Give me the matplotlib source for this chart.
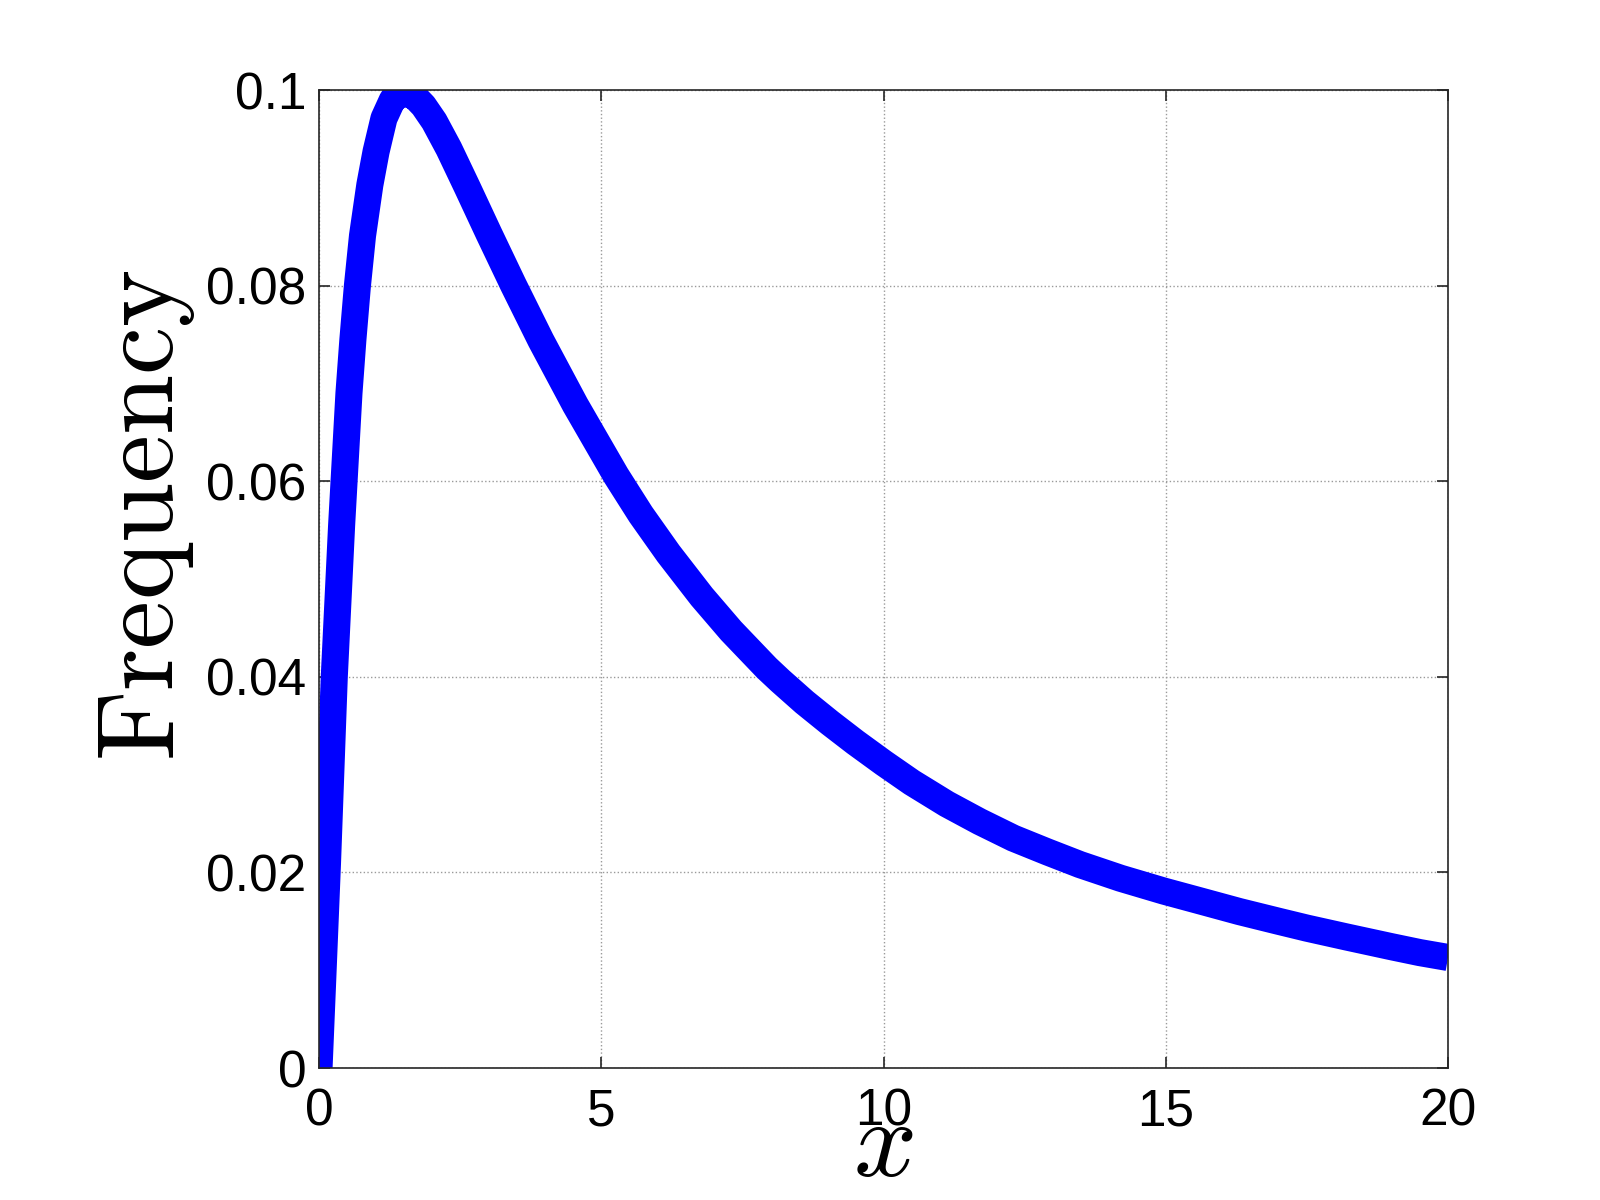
import matplotlib
matplotlib.use("Agg")
import matplotlib.pyplot as plt

# values
x_vals = [0, 0.065, 0.15, 0.27, 0.40, 0.53, 0.60, 0.68, 0.77, 0.90, 1.01,
          1.15, 1.30, 1.50, 1.70, 1.85, 2.04, 2.30, 2.63, 3.01, 3.44, 3.93,
          4.54, 5.00, 5.26, 5.70, 6.19, 6.78, 7.30, 7.93, 8.17, 8.60, 9.05,
          9.50, 10.0, 10.5, 11.12, 11.7, 12.3, 12.9, 13.48, 14.2, 14.96,
          15.6, 16.3, 17.0, 17.5, 18.2, 19.0, 19.5, 20.0]
y_vals = [0, 0.009, 0.021, 0.040, 0.0555, 0.0690, 0.0745, 0.0800, 0.0851,
          0.0903, 0.0937, 0.0971, 0.0990, 0.0998, 0.0993, 0.0984, 0.0968,
          0.0940, 0.0900, 0.0853, 0.0801, 0.0744, 0.0678, 0.0632, 0.0606,
          0.0566, 0.0526, 0.0482, 0.0447, 0.0409, 0.0396, 0.0374, 0.0353,
          0.0333, 0.0312, 0.0292, 0.0270, 0.0252, 0.0235, 0.0221, 0.0208,
          0.0194, 0.0181, 0.0171, 0.0160, 0.0150, 0.0143, 0.0134, 0.0124,
          0.0118, 0.0113]

x_ticks = [0, 5, 10, 15, 20]
y_ticks = [0, 0.02, 0.04, 0.06, 0.08, 0.1]
y_tick_labels = ['0', '0.02', '0.04', '0.06', '0.08', '0.1']

plt.rcParams['font.family'] = ['Liberation Sans', 'DejaVu Sans']
plt.rcParams['mathtext.fontset'] = 'cm'

fig = plt.figure(figsize=(16, 12), dpi=100)
ax = fig.add_axes([0.1994, 0.11, 0.7056, 0.815])

ax.plot(x_vals, y_vals, color='#0000ff', linewidth=19.5,
        solid_capstyle='butt', solid_joinstyle='round')

ax.set_xlim(0, 20)
ax.set_ylim(0, 0.1)
ax.set_xticks(x_ticks)
ax.set_yticks(y_ticks)
ax.set_yticklabels(y_tick_labels)

ax.grid(True, linestyle=':', color='#9a9a9a', linewidth=1.0)
ax.tick_params(direction='in', length=8, width=1.2, labelsize=37,
               top=True, right=True, color='#262626')
ax.tick_params(axis='x', pad=14)
ax.tick_params(axis='y', pad=9)
for s in ax.spines.values():
    s.set_linewidth(1.2)
    s.set_color('#262626')

ax.set_xlabel(r'$x$', fontsize=80)
ax.xaxis.set_label_coords(0.5, -0.028)
ax.xaxis.label.set_verticalalignment('top')
ax.set_ylabel(r'$\mathrm{Frequency}$', fontsize=78)
ax.yaxis.set_label_coords(-0.108, 0.565)

fig.savefig('out.png', dpi=100, facecolor='white')
